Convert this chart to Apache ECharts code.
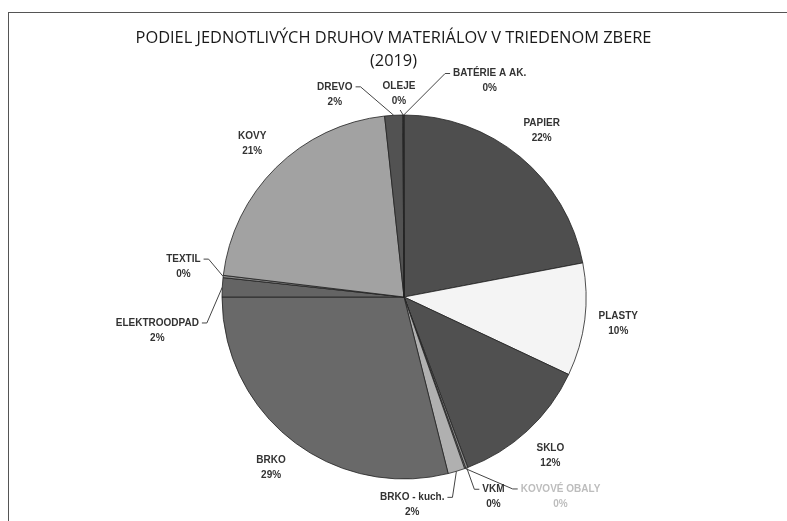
<!DOCTYPE html>
<html>
<head>
<meta charset="utf-8">
<script src="https://cdn.jsdelivr.net/npm/echarts@6/dist/echarts.min.js"></script>
<style>
    html, body { margin: 0; padding: 0; background: #fff; }
    #frame { position: absolute; left: 8px; top: 12px; width: 790px; height: 520px;
             border-left: 1px solid #555; border-top: 1px solid #555; }
    #chart { position: absolute; left: 0; top: 0; width: 787px; height: 521px; }
</style>
</head>
<body>
<div id="frame"></div>
<div id="chart"></div>
<script>
// druhy materialov, v poradi od 12 hodin v smere hodinovych ruciciek
var categories = ['PAPIER', 'PLASTY', 'SKLO', 'VKM', 'KOVOVÉ OBALY', 'BRKO - kuch.', 'BRKO',
    'ELEKTROODPAD', 'TEXTIL', 'KOVY', 'DREVO', 'OLEJE', 'BATÉRIE A AK.'];
// podiel v % (odcitane z grafu)
var shares = [22.0, 10.0, 12.3, 0.2, 0.1, 1.5, 28.9, 1.7, 0.2, 21.4, 1.6, 0.05, 0.05];

var sliceColors = ['#4e4e4e', '#f4f4f4', '#505050', '#8a8a8a', '#9a9a9a', '#b0b0b0', '#696969',
    '#646464', '#8c8c8c', '#a2a2a2', '#525252', '#777777', '#666666'];

// posun popisov malych vysekov (ako "best fit" v exceli)
var labelShift = {
    'VKM': [15, -3],
    'KOVOVÉ OBALY': [84, -4],
    'BRKO - kuch.': [-54, 1],
    'ELEKTROODPAD': [-31, 45],
    'TEXTIL': [-6, -6],
    'DREVO': [-57, 13],
    'OLEJE': [-4, 13],
    'BATÉRIE A AK.': [86, 0]
};

var CX = 404, CY = 297, R = 182, LABEL_R = 216;

var total = shares.reduce(function (a, b) { return a + b; }, 0);
var midAngles = [];
var acc = 0;
shares.forEach(function (v) {
    midAngles.push((acc + v / 2) / total * Math.PI * 2);
    acc += v;
});

function polar(ang, r) {
    return [CX + r * Math.sin(ang), CY - r * Math.cos(ang)];
}

var chart = echarts.init(document.getElementById('chart'));

var data = categories.map(function (name, i) {
    var item = {
        name: name,
        value: shares[i],
        itemStyle: { color: sliceColors[i] },
        labelLine: { show: shares[i] < 3 }
    };
    if (name === 'KOVOVÉ OBALY') {
        item.label = { color: '#bdbdbd' };
    }
    return item;
});

chart.setOption({
    backgroundColor: 'transparent',
    title: {
        text: 'PODIEL JEDNOTLIVÝCH DRUHOV MATERIÁLOV V TRIEDENOM ZBERE\n(2019)',
        left: 'center',
        top: 22,
        textStyle: {
            fontFamily: 'Open Sans',
            fontSize: 16.4,
            fontWeight: 'normal',
            color: '#1a1a1a',
            lineHeight: 23
        }
    },
    series: [{
        type: 'pie',
        center: [CX, CY],
        radius: R,
        startAngle: 90,
        clockwise: true,
        percentPrecision: 0,
        avoidLabelOverlap: false,
        data: data,
        itemStyle: {
            borderColor: '#222',
            borderWidth: 0.8
        },
        label: {
            show: true,
            position: 'outside',
            formatter: '{b}\n{d}%',
            fontFamily: 'Liberation Sans',
            fontSize: 10,
            fontWeight: 'bold',
            lineHeight: 15,
            color: '#333'
        },
        labelLine: {
            lineStyle: { color: '#444', width: 1 }
        },
        labelLayout: function (params) {
            var i = params.dataIndex;
            var name = categories[i];
            var p = polar(midAngles[i], LABEL_R);
            var s = labelShift[name] || [0, 0];
            var x = p[0] + s[0], y = p[1] + s[1];
            var res = { x: x, y: y, align: 'center', verticalAlign: 'middle' };
            if (shares[i] < 3) {
                var edge = polar(midAngles[i], R);
                var w = params.labelRect.width, h = params.labelRect.height;
                var ex = edge[0] > x ? x + w / 2 + 3 : x - w / 2 - 3;
                var ey = y - h / 4;
                var kx = edge[0] > x ? ex + 5 : ex - 5;
                if (Math.abs(edge[0] - x) < w / 2) {
                    // okraj vyseku je priamo pod/nad popisom
                    ex = edge[0] - 3;
                    ey = edge[1] > y ? y + h / 2 + 1 : y - h / 2 - 1;
                    kx = ex;
                }
                res.labelLinePoints = [edge, [kx, ey], [ex, ey]];
            }
            return res;
        }
    }]
});
</script>
</body>
</html>
